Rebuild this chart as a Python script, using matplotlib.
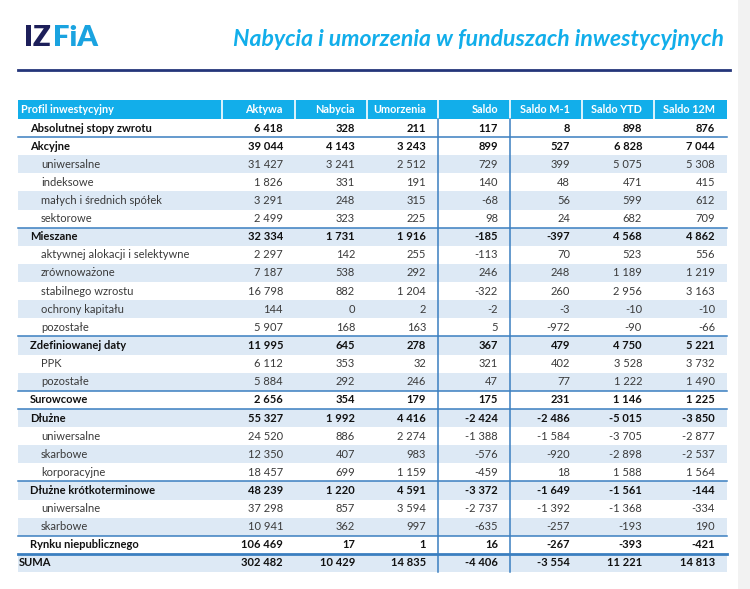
import matplotlib.pyplot as plt
from matplotlib.patches import Rectangle

plt.rcParams['font.family'] = ['Lato', 'DejaVu Sans']

# Table data
columns = ['Profil inwestycyjny', 'Aktywa', 'Nabycia', 'Umorzenia', 'Saldo',
           'Saldo M-1', 'Saldo YTD', 'Saldo 12M']
labels = ['Absolutnej stopy zwrotu', 'Akcyjne', 'uniwersalne', 'indeksowe',
          'małych i średnich spółek', 'sektorowe', 'Mieszane',
          'aktywnej alokacji i selektywne', 'zrównoważone', 'stabilnego wzrostu',
          'ochrony kapitału', 'pozostałe', 'Zdefiniowanej daty', 'PPK', 'pozostałe',
          'Surowcowe', 'Dłużne', 'uniwersalne', 'skarbowe', 'korporacyjne',
          'Dłużne krótkoterminowe', 'uniwersalne', 'skarbowe',
          'Rynku niepublicznego', 'SUMA']
# 0 = total, 1 = group, 2 = sub-category
levels = [1, 1, 2, 2, 2, 2, 1, 2, 2, 2, 2, 2, 1, 2, 2, 1, 1, 2, 2, 2, 1, 2, 2, 1, 0]
aktywa = [6418, 39044, 31427, 1826, 3291, 2499, 32334, 2297, 7187, 16798, 144, 5907,
          11995, 6112, 5884, 2656, 55327, 24520, 12350, 18457, 48239, 37298, 10941,
          106469, 302482]
nabycia = [328, 4143, 3241, 331, 248, 323, 1731, 142, 538, 882, 0, 168, 645, 353, 292,
           354, 1992, 886, 407, 699, 1220, 857, 362, 17, 10429]
umorzenia = [211, 3243, 2512, 191, 315, 225, 1916, 255, 292, 1204, 2, 163, 278, 32, 246,
             179, 4416, 2274, 983, 1159, 4591, 3594, 997, 1, 14835]
saldo = [117, 899, 729, 140, -68, 98, -185, -113, 246, -322, -2, 5, 367, 321, 47, 175,
         -2424, -1388, -576, -459, -3372, -2737, -635, 16, -4406]
saldo_m1 = [8, 527, 399, 48, 56, 24, -397, 70, 248, 260, -3, -972, 479, 402, 77, 231,
            -2486, -1584, -920, 18, -1649, -1392, -257, -267, -3554]
saldo_ytd = [898, 6828, 5075, 471, 599, 682, 4568, 523, 1189, 2956, -10, -90, 4750, 3528,
             1222, 1146, -5015, -3705, -2898, 1588, -1561, -1368, -193, -393, 11221]
saldo_12m = [876, 7044, 5308, 415, 612, 709, 4862, 556, 1219, 3163, -10, -66, 5221, 3732,
             1490, 1225, -3850, -2877, -2537, 1564, -144, -334, 190, -421, 14813]
values = [aktywa, nabycia, umorzenia, saldo, saldo_m1, saldo_ytd, saldo_12m]

HEADER = '#12aeea'
SHADE = '#dde9f5'
LINE = '#3b7fc0'
NAVY = '#24357a'


def fmt(v):
    return f'{v:,}'.replace(',', ' ')


fig = plt.figure(figsize=(7.5, 5.89), dpi=100)
ax = fig.add_axes([0, 0, 1, 1])
ax.set_xlim(0, 750)
ax.set_ylim(589, 0)
ax.axis('off')

# slide shadow on the right edge
ax.add_patch(Rectangle((738, 0), 12, 589, color='#f2f2f2', lw=0))

# logo and title
ax.text(24, 38, 'IZ', fontsize=21, fontweight='heavy', color='#1d1f5a', va='center')
ax.text(53, 38, 'FiA', fontsize=21, fontweight='heavy', color='#1aa3e0', va='center')
ax.text(724, 39, 'Nabycia i umorzenia w funduszach inwestycyjnych', fontsize=16.6,
        fontweight='bold', style='italic', color='#12aeea', ha='right', va='center')
ax.plot([18, 730], [70, 70], color=NAVY, lw=2)

# geometry
left, right = 18, 727
col_edges = [222, 295, 367, 438, 510, 582, 654, 727]
row_h = 18.125
y0 = 128
head_top, head_bot = 100, 118.5

# header
ax.add_patch(Rectangle((left, head_top), right - left, head_bot - head_top,
                       color=HEADER, lw=0))
for x in col_edges[:-1]:
    ax.plot([x, x], [head_top, head_bot], color='white', lw=1.2)
ax.text(21, 109.5, columns[0], fontsize=7.8, fontweight='bold', color='white', va='center')
for j, name in enumerate(columns[1:]):
    ax.text(col_edges[j + 1] - 12, 109.5, name, fontsize=7.8, fontweight='bold',
            color='white', va='center', ha='right')

# body
n = len(labels)
for i, (lab, lev) in enumerate(zip(labels, levels)):
    yc = y0 + i * row_h
    if i >= 1 and i % 2 == 0:
        ax.add_patch(Rectangle((left, yc - row_h / 2), right - left, row_h,
                               color=SHADE, lw=0))
    bold = lev < 2
    color = '#111111' if bold else '#3a3a3a'
    x = {0: 19, 1: 30, 2: 41}[lev]
    ax.text(x, yc, lab, fontsize=8, fontweight='bold' if bold else 'normal',
            color=color, va='center')
    for j, col in enumerate(values):
        ax.text(col_edges[j + 1] - 12, yc, fmt(col[i]), fontsize=8,
                fontweight='bold' if bold else 'normal', color=color,
                va='center', ha='right')
    if i >= 1 and lev < 2:
        yl = yc - row_h / 2
        ax.plot([left, right], [yl, yl], color=LINE, lw=2.0 if lev == 0 else 1.1)

bottom = y0 + (n - 1) * row_h + row_h / 2
for x in (438, 510):
    ax.plot([x, x], [head_bot, bottom], color=LINE, lw=1.1)

fig.savefig('out.png', dpi=100)
